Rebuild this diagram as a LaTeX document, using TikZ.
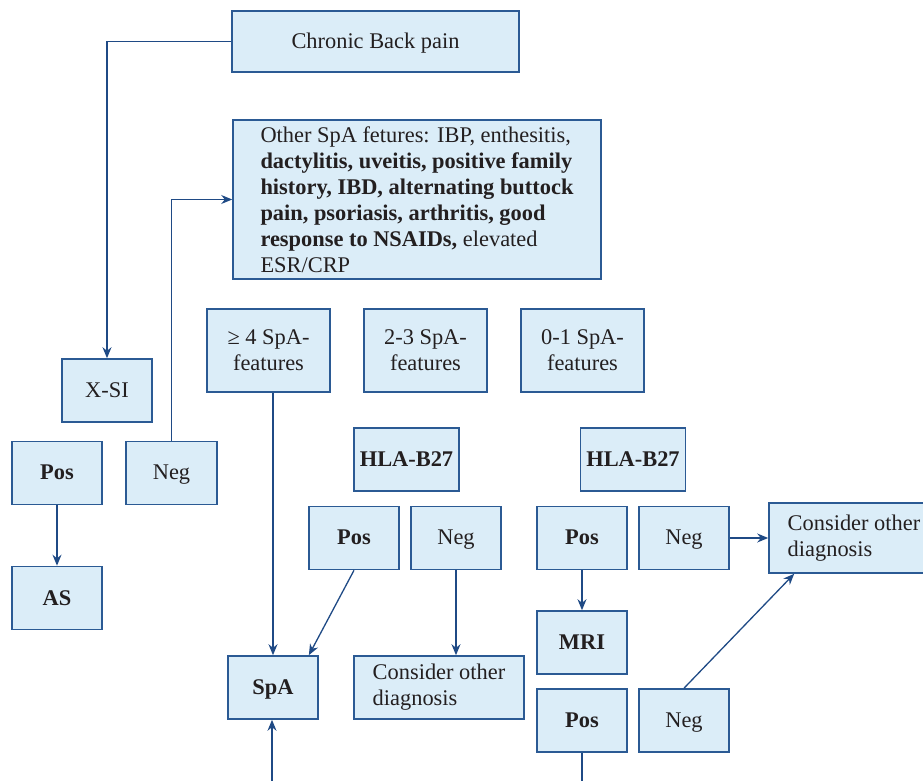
\documentclass[tikz,border=0pt]{standalone}
\usepackage{fontspec}
\setmainfont{Liberation Serif}
\usetikzlibrary{arrows.meta}

\definecolor{boxline}{HTML}{2B5A94}
\definecolor{boxfill}{HTML}{DBEDF8}
\definecolor{ink}{HTML}{231F20}
\definecolor{linkblue}{HTML}{1F4A85}

\tikzset{
    flowbox/.style={draw=boxline, fill=boxfill, line width=0.8pt, text=ink,
        inner sep=0pt, align=center, font=\fontsize{11.2}{13}\selectfont,
        minimum width=45pt, minimum height=31.5pt},
    onebox/.style={flowbox, text height=9pt, text depth=2pt},
    boldbox/.style={onebox, font=\fontsize{11.2}{13}\selectfont\bfseries},
    featbox/.style={flowbox, minimum width=61.5pt, minimum height=41.5pt},
    hlabox/.style={boldbox, minimum width=52.5pt},
    otherbox/.style={flowbox, minimum width=85pt, align=left},
    link/.style={draw=linkblue, line width=0.65pt},
}

\begin{document}
\begin{tikzpicture}[x=0.5pt, y=-0.5pt, >={Stealth[length=5.5pt,width=4.5pt]}]
    \useasboundingbox (0,0) rectangle (923,781);
    \clip (0,0) rectangle (923,781);

    % top of the chart
    \node[onebox, minimum width=143.5pt, minimum height=30.5pt] (chronic)
        at (375.5,41.5) {Chronic Back pain};
    \node[flowbox, minimum width=184pt, minimum height=79.5pt, align=left] (other)
        at (417,199.5) {Other SpA fetures: IBP, enthesitis,\\
        \textbf{dactylitis, uveitis, positive family}\\
        \textbf{history, IBD, alternating buttock}\\
        \textbf{pain, psoriasis, arthritis, good}\\
        \textbf{response to NSAIDs,} elevated\\
        ESR/CRP};

    % X-ray branch
    \node[onebox] (xsi) at (107,390.5) {X-SI};
    \node[boldbox] (posL) at (57,473) {Pos};
    \node[onebox, minimum width=45.5pt] (negL) at (171.5,473) {Neg};
    \node[boldbox] (as) at (57,598) {AS};

    % feature counts
    \node[featbox] (feat4) at (268.5,350.5) {≥ 4 SpA-\\features};
    \node[featbox] (feat23) at (425.5,350.5) {2-3 SpA-\\features};
    \node[featbox] (feat01) at (582.5,350.5) {0-1 SpA-\\features};

    \node[hlabox] (hlaM) at (406.5,459.5) {HLA-B27};
    \node[hlabox] (hlaR) at (633,459.5) {HLA-B27};

    \node[boldbox] (posM) at (354,538) {Pos};
    \node[onebox] (negM) at (456,538) {Neg};
    \node[boldbox] (posR) at (582,538) {Pos};
    \node[onebox] (negR) at (684,538) {Neg};
    \node[otherbox, minimum height=35pt] (consR) at (854,538) {Consider other\\diagnosis};

    \node[boldbox] (spa) at (273,687.5) {SpA};
    \node[otherbox] (consM) at (439,687.5) {Consider other\\diagnosis};
    \node[boldbox] (mri) at (582,642.5) {MRI};
    \node[boldbox] (posB) at (582,720.5) {Pos};
    \node[onebox] (negB) at (684,720.5) {Neg};

    \coordinate (spaIn) at (272,781);
    \coordinate (posOut) at (582,781);

    % connectors
    \draw[link, ->] (chronic.west) -| (xsi.north);
    \draw[link, ->] (negL.north) |- (other.west);
    \draw[link, ->] (posL) -- (as);
    \draw[link, ->] (feat4.south -| spa.north) -- (spa.north);
    \draw[link, ->] (posM.south) -- (spa.42);
    \draw[link, ->] (negM.south) -- (negM.south |- consM.north);
    \draw[link, ->] (posR) -- (mri);
    \draw[link, ->] (negR) -- (consR);
    \draw[link, ->] (negB.north) -- ([xshift=13pt]consR.south west);
    \draw[link, ->] (spaIn) -- (spa.south -| spaIn);
    \draw[link] (posB.south) -- (posOut);
\end{tikzpicture}
\end{document}
